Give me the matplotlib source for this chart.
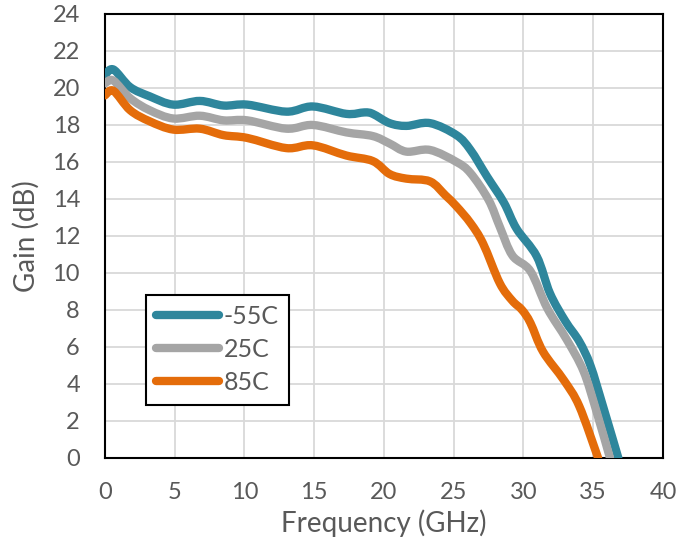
import matplotlib
matplotlib.use("Agg")
import matplotlib.pyplot as plt
from matplotlib.path import Path
from matplotlib.patches import PathPatch
from matplotlib.lines import Line2D

plt.rcParams['font.family'] = ['Lato', 'DejaVu Sans']

# Values
freq_m55 = [0.0, 0.6, 1.8, 3.2, 4.9, 6.8, 8.5, 10.2, 13.0, 14.9, 17.3, 18.6, 19.2, 20.4,
            21.6, 23.3, 25.2, 26.2, 27.4, 28.6, 29.5, 30.95, 31.9, 33.0, 34.0,
            34.8, 35.7, 36.8]
gain_m55 = [20.7, 21.0, 20.05, 19.55, 19.1, 19.3, 19.05, 19.1, 18.72, 19.0, 18.6, 18.68, 18.6, 18.1,
            17.95, 18.1, 17.45, 16.65, 15.2, 13.8, 12.4, 10.9, 8.9, 7.4, 6.3,
            5.0, 2.8, 0.0]

freq_25 = [0.0, 0.6, 1.8, 3.2, 4.9, 6.8, 8.5, 10.2, 13.0, 14.9, 17.3, 19.2, 20.4, 21.6,
           23.3, 25.2, 26.2, 27.5, 28.3, 29.2, 30.5, 31.7, 33.1, 34.3, 35.2, 36.2]
gain_25 = [20.25, 20.4, 19.45, 18.8, 18.35, 18.5, 18.25, 18.25, 17.8, 18.0, 17.6, 17.4, 17.0, 16.56,
           16.65, 16.0, 15.4, 13.95, 12.5, 10.95, 10.1, 8.1, 6.4, 4.7, 2.6, 0.0]

freq_85 = [0.0, 0.6, 1.8, 3.2, 4.9, 6.8, 8.5, 10.2, 13.0, 14.9, 17.3, 19.2, 20.4, 21.6,
           23.3, 24.4, 25.2, 26.2, 27.1, 28.3, 29.2, 29.9, 30.5, 31.4, 32.9, 34.0, 35.35]
gain_85 = [19.6, 19.85, 18.8, 18.2, 17.75, 17.8, 17.45, 17.3, 16.75, 16.9, 16.35, 16.05, 15.35, 15.1,
           14.95, 14.2, 13.6, 12.7, 11.6, 9.45, 8.5, 8.0, 7.3, 5.75, 4.2, 2.8, 0.0]

labels = ['-55C', '25C', '85C']
colors = ['#2E869C', '#A5A5A5', '#E46C0A']


def smooth_path(x, y):
    # Excel-style smoothed line: Catmull-Rom segments as cubic Beziers
    pts = list(zip(x, y))
    n = len(pts)
    verts = [pts[0]]
    codes = [Path.MOVETO]
    for i in range(n - 1):
        p0 = pts[max(i - 1, 0)]
        p1 = pts[i]
        p2 = pts[i + 1]
        p3 = pts[min(i + 2, n - 1)]
        c1 = (p1[0] + (p2[0] - p0[0]) / 6, p1[1] + (p2[1] - p0[1]) / 6)
        c2 = (p2[0] - (p3[0] - p1[0]) / 6, p2[1] - (p3[1] - p1[1]) / 6)
        verts += [c1, c2, p2]
        codes += [Path.CURVE4] * 3
    return Path(verts, codes)


fig = plt.figure(figsize=(6.79, 5.46), dpi=100)
ax = fig.add_axes([0.1546, 0.1612, 0.8218, 0.8132])

series = [(freq_m55, gain_m55), (freq_25, gain_25), (freq_85, gain_85)]
handles = []
for (x, y), lab, c in zip(series, labels, colors):
    ax.add_patch(PathPatch(smooth_path(x, y), fill=False, edgecolor=c, lw=6,
                           capstyle='round', joinstyle='round', zorder=3))
    handles.append(Line2D([], [], color=c, lw=6, solid_capstyle='round', label=lab))

ax.set_xlim(0, 40)
ax.set_ylim(0, 24)
ax.set_xticks(range(0, 41, 5))
ax.set_yticks(range(0, 25, 2))
ax.grid(True, color='#D9D9D9', lw=1.3)
ax.set_axisbelow(True)
ax.tick_params(length=0, labelsize=17, labelcolor='#595959')
ax.tick_params(axis='x', pad=17)
ax.tick_params(axis='y', pad=18)
for s in ax.spines.values():
    s.set_linewidth(1.5)
    s.set_color('black')

ax.set_xlabel('Frequency (GHz)', fontsize=20, color='#595959', labelpad=5)
ax.set_ylabel('Gain (dB)', fontsize=20, color='#595959', labelpad=9)

leg = ax.legend(handles=handles, loc='lower left', bbox_to_anchor=(0.0735, 0.12),
                borderaxespad=0, fancybox=False, edgecolor='black', fontsize=18,
                handlelength=2.5, handletextpad=0.2, labelspacing=0.4, borderpad=0.42,
                framealpha=1)
leg.get_frame().set_linewidth(1.5)
for t in leg.get_texts():
    t.set_color('#595959')

fig.savefig('out.png', dpi=100)
